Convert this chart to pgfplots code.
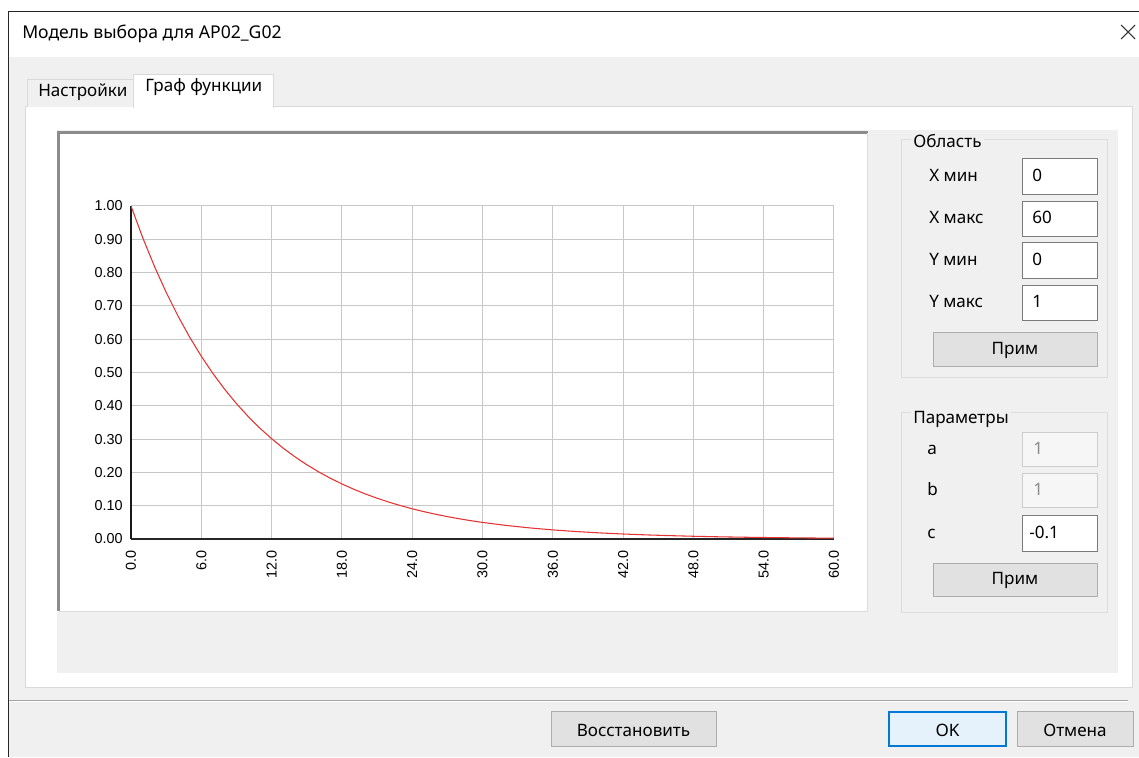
\documentclass[border=0pt]{standalone}
\usepackage{fontspec}
\setmainfont{Noto Sans}
\newfontfamily\tickfont{Liberation Sans}
\usepackage{pgfplots}
\pgfplotsset{compat=1.18}
\definecolor{winbg}{HTML}{F0F0F0}
\definecolor{tabline}{HTML}{D9D9D9}
\definecolor{grpline}{HTML}{DCDCDC}
\definecolor{boxline}{HTML}{7A7A7A}
\definecolor{btnfill}{HTML}{E1E1E1}
\definecolor{btnline}{HTML}{ADADAD}
\definecolor{okfill}{HTML}{E5F1FB}
\definecolor{okline}{HTML}{0078D7}
\definecolor{gridc}{HTML}{C8C8C8}
\definecolor{curvered}{HTML}{E63232}
\newcommand{\ui}{\fontsize{12.8}{15}\selectfont}
\newcommand{\uit}{\fontsize{13.2}{15}\selectfont}
\begin{document}
\begin{tikzpicture}
\begin{scope}[yshift=567.75pt, x=0.75pt, y=-0.75pt]
\path[use as bounding box, fill=white] (0,0) rectangle (1139,757);
% window
\fill[winbg] (8,11) rectangle (1139,757);
\fill[white] (8,12) rectangle (1139,57);
\draw[line width=0.9pt, black!85] (8.5,757) -- (8.5,11.5) -- (1139,11.5);
\node[anchor=base west, inner sep=0pt, font=\uit] at (22,38.5) {Модель выбора для AP02\_G02};
\draw[line width=0.8pt, black!80] (1121,25) -- (1135,39) (1121,39) -- (1135,25);
% tab page
\filldraw[fill=white, draw=tabline, line width=0.75pt] (25,107) rectangle (1132,688);
\filldraw[fill=winbg, draw=tabline, line width=0.75pt] (27,107) -- (27,80) -- (133,80) -- (133,107);
\filldraw[fill=white, draw=tabline, line width=0.75pt] (133,108) -- (133,75) -- (273,75) -- (273,108);
\fill[white] (133.5,105) rectangle (272.5,109);
\node[anchor=base west, inner sep=0pt, font=\ui] at (38,97) {Настройки};
\node[anchor=base west, inner sep=0pt, font=\ui] at (145,92) {Граф функции};
% container
\fill[winbg] (57,130) rectangle (1118,673);
% chart panel
\fill[white] (57,131) rectangle (868,612);
\draw[line width=2.25pt, black!45] (58.5,611) -- (58.5,132.5) -- (868,132.5);
\draw[line width=0.75pt, grpline] (867.5,133) -- (867.5,611.5) -- (59,611.5);
% group box 1
\draw[grpline, line width=0.75pt] (901,140) rectangle (1107,378);
\node[anchor=base west, inner xsep=1.5pt, inner ysep=1pt, fill=winbg, font=\ui] at (911,148) {Область};
\node[anchor=base west, inner sep=0pt, font=\ui] at (929,182) {X мин};
\node[anchor=base west, inner sep=0pt, font=\ui] at (929,224) {X макс};
\node[anchor=base west, inner sep=0pt, font=\ui] at (929,266) {Y мин};
\node[anchor=base west, inner sep=0pt, font=\ui] at (929,308) {Y макс};
\filldraw[fill=white, draw=boxline, line width=0.75pt] (1022,159) rectangle (1097,195);
\filldraw[fill=white, draw=boxline, line width=0.75pt] (1022,202) rectangle (1097,237);
\filldraw[fill=white, draw=boxline, line width=0.75pt] (1022,243) rectangle (1097,279);
\filldraw[fill=white, draw=boxline, line width=0.75pt] (1022,286) rectangle (1097,321);
\node[anchor=base west, inner sep=0pt, font=\ui] at (1032,182) {0};
\node[anchor=base west, inner sep=0pt, font=\ui] at (1032,224) {60};
\node[anchor=base west, inner sep=0pt, font=\ui] at (1032,266) {0};
\node[anchor=base west, inner sep=0pt, font=\ui] at (1032,308) {1};
\filldraw[fill=btnfill, draw=btnline, line width=0.75pt] (933,333) rectangle (1097,367);
\node[anchor=base, inner sep=0pt, font=\ui] at (1015,355) {Прим};
% group box 2
\draw[grpline, line width=0.75pt] (901,413) rectangle (1107,613);
\node[anchor=base west, inner xsep=1.5pt, inner ysep=1pt, fill=winbg, font=\ui] at (911,424) {Параметры};
\node[anchor=base west, inner sep=0pt, font=\ui] at (927,455) {a};
\node[anchor=base west, inner sep=0pt, font=\ui] at (927,496) {b};
\node[anchor=base west, inner sep=0pt, font=\ui] at (927,539) {c};
\filldraw[fill=winbg!60!white, draw=black!20, line width=0.75pt] (1022,433) rectangle (1097,467);
\filldraw[fill=winbg!60!white, draw=black!20, line width=0.75pt] (1022,474) rectangle (1097,508);
\filldraw[fill=white, draw=boxline, line width=0.75pt] (1022,516) rectangle (1097,552);
\node[anchor=base west, inner sep=0pt, font=\ui, text=black!45] at (1033,455) {1};
\node[anchor=base west, inner sep=0pt, font=\ui, text=black!45] at (1033,496) {1};
\node[anchor=base west, inner sep=0pt, font=\ui] at (1029,539) {-0.1};
\filldraw[fill=btnfill, draw=btnline, line width=0.75pt] (933,564) rectangle (1097,597);
\node[anchor=base, inner sep=0pt, font=\ui] at (1015,585) {Прим};
% bottom
\draw[line width=0.75pt, black!35] (9,700.5) -- (1128,700.5);
\draw[line width=0.75pt, white] (9,701.5) -- (1128,701.5);
\filldraw[fill=btnfill, draw=btnline, line width=0.75pt] (551,712) rectangle (716,746);
\node[anchor=base, inner sep=0pt, font=\ui] at (633.5,736) {Восстановить};
\filldraw[fill=okfill, draw=okline, line width=1.5pt] (889,712) rectangle (1006,746);
\node[anchor=base, inner sep=0pt, font=\ui] at (947.5,736) {OK};
\filldraw[fill=btnfill, draw=btnline, line width=0.75pt] (1017,712) rectangle (1133,746);
\node[anchor=base, inner sep=0pt, font=\ui] at (1075,736) {Отмена};
\end{scope}
\begin{axis}[
  at={(98.25pt,163.5pt)}, anchor=south west,
  scale only axis, width=527.25pt, height=249.75pt,
  xmin=0, xmax=60, ymin=0, ymax=1,
  xtick={0,6,12,18,24,30,36,42,48,54,60},
  ytick={0,0.1,0.2,0.3,0.4,0.5,0.6,0.7,0.8,0.9,1},
  grid=major, major grid style={color=gridc, line width=0.75pt},
  axis x line*=bottom, axis y line*=left,
  axis line style={-},
  x axis line style={line width=1.5pt, color=black!85},
  y axis line style={line width=0.9pt, color=black!90},
  major tick length=0pt,
  tick label style={font=\tickfont\fontsize{10.8}{11}\selectfont, /pgf/number format/assume math mode=true},
  xticklabel style={rotate=90, anchor=east, inner xsep=8.25pt, inner ysep=0pt,
    /pgf/number format/fixed, /pgf/number format/fixed zerofill, /pgf/number format/precision=1},
  yticklabel style={anchor=east, inner xsep=6pt, inner ysep=0pt,
    /pgf/number format/fixed, /pgf/number format/fixed zerofill, /pgf/number format/precision=2},
]
\addplot[color=curvered, line width=0.8pt, mark=none] coordinates {
(0,1.0000) (1,0.9048) (2,0.8187) (3,0.7408) (4,0.6703) (5,0.6065)
(6,0.5488) (7,0.4966) (8,0.4493) (9,0.4066) (10,0.3679) (11,0.3329)
(12,0.3012) (13,0.2725) (14,0.2466) (15,0.2231) (16,0.2019) (17,0.1827)
(18,0.1653) (19,0.1496) (20,0.1353) (21,0.1225) (22,0.1108) (23,0.1003)
(24,0.0907) (25,0.0821) (26,0.0743) (27,0.0672) (28,0.0608) (29,0.0550)
(30,0.0498) (32,0.0408) (34,0.0334) (36,0.0273) (38,0.0224) (40,0.0183)
(42,0.0150) (44,0.0123) (46,0.0101) (48,0.0082) (50,0.0067) (52,0.0055)
(54,0.0045) (56,0.0037) (58,0.0030) (60,0.0025)
};
\end{axis}
\end{tikzpicture}
\end{document}
